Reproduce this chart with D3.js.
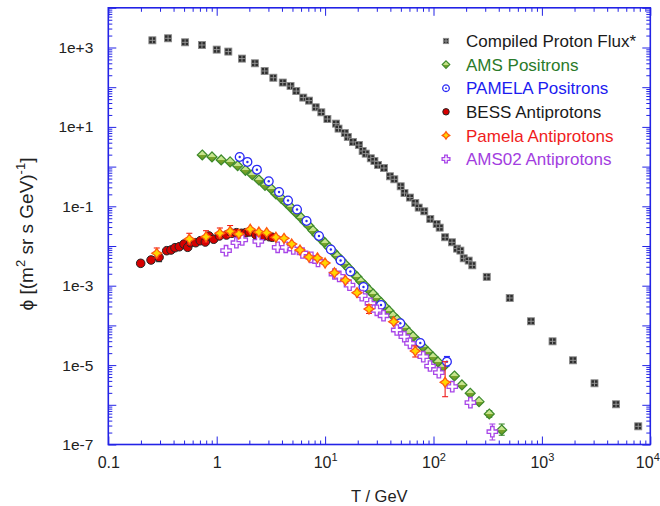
<!DOCTYPE html>
<html><head><meta charset="utf-8">
<script src="https://cdn.jsdelivr.net/npm/d3@7/dist/d3.min.js"></script>
<style>body{margin:0;background:#fff}svg{display:block}</style>
</head><body><svg id="c" width="660" height="506"></svg>
<script>
// ---------- data ----------
const protonT=[0.255,0.356,0.511,0.731,1.0,1.28,1.71,2.25,2.77,3.33,4.07,4.80,5.42,6.29,7.11,8.19,9.23,10.5,12.6,13.3,15.2,16.2,18.1,20.5,22.2,23.7,26.4,28.5,30.8,34.9,39.7,43.5,49.8,54.0,60.6,67.9,73.0,82.2,93.4,107,114,128,148,165,177,190,211,228,310,505,794,1254,1937,3056,4830,7740];
const protonF=[1517,1706,1352,1156,885,789,525,400,256,173,131,107,80,54.7,45.9,31.2,23.3,15.8,12.1,9.06,7.01,5.57,4.17,3.50,2.47,2.12,1.62,1.38,1.10,0.922,0.570,0.479,0.319,0.216,0.166,0.121,0.0927,0.0748,0.0479,0.0358,0.0290,0.0166,0.0124,0.00859,0.00766,0.0049,0.00429,0.00326,0.00167,4.9e-4,1.27e-4,3.97e-5,1.32e-5,3.48e-6,1.03e-6,2.87e-7];

const amsPosT=[0.736,0.905,1.10,1.33,1.56,1.84,2.13,2.45,2.79,3.19,3.52,3.94,4.36,4.81,5.39,6.00,6.53,7.10,7.73,8.42,9.17,9.98,10.9,11.8,12.9,14.0,15.3,16.6,18.1,19.7,21.4,23.3,25.4,27.7,30.1,32.8,35.7,38.9,42.3,46.0,50.1,54.6,59.4,64.7,71.9,80.0,88.9,98.9,110,123,156,183,218,263,327,426];
const amsPosF=[1.96,1.75,1.47,1.31,1.05,0.807,0.625,0.460,0.338,0.273,0.204,0.159,0.123,0.0944,0.0690,0.0516,0.0403,0.0319,0.0245,0.0189,0.0150,0.0119,0.00916,0.00726,0.00560,0.00444,0.00342,0.00271,0.00209,0.00166,0.00128,0.00101,7.80e-4,6.18e-4,4.76e-4,3.78e-4,2.90e-4,2.31e-4,1.77e-4,1.41e-4,1.08e-4,8.61e-5,6.62e-5,5.25e-5,3.93e-5,2.86e-5,2.14e-5,1.60e-5,1.20e-5,9.12e-6,5.31e-6,3.16e-6,1.95e-6,1.20e-6,5.86e-7,2.32e-7];
const amsPosLo={54:4.84e-7,55:1.71e-7};
const amsPosHi={54:7.10e-7,55:3.28e-7};

const pamPosT=[1.63,1.92,2.35,3.02,3.76,4.55,5.51,6.74,8.78,11.3,13.9,17.1,22.6,32.8,49.4,75.5,133];
const pamPosF=[1.75,1.31,0.836,0.427,0.229,0.140,0.0830,0.0427,0.0179,0.00817,0.00432,0.00228,9.27e-4,3.27e-4,1.13e-4,3.61e-5,1.22e-5];
const pamPosLo={16:9.48e-6};
const pamPosHi={16:1.65e-5};

const bessT=[0.199,0.248,0.294,0.346,0.379,0.412,0.452,0.499,0.540,0.575,0.640,0.706,0.785,0.849,0.938,1.06,1.23,1.38,1.52,1.69,1.85,2.00,2.29,2.47,2.73,3.06,3.26];
const bessF=[0.00366,0.00444,0.00519,0.00762,0.00793,0.00906,0.00959,0.0112,0.00927,0.0121,0.0121,0.0136,0.0126,0.0179,0.0148,0.0179,0.0189,0.0209,0.0216,0.0209,0.0216,0.0225,0.0193,0.0186,0.0179,0.0171,0.0166];
const bessLo={0:0.00308,1:0.0037,2:0.00403};
const bessHi={0:0.00435,1:0.0053,2:0.00655};

const pamPbarT=[0.280,0.559,0.797,1.07,1.33,1.60,2.04,2.45,2.89,3.52,4.18,4.92,5.87,7.10,8.50,10.0,12.2,15.4,19.7,25.4,42.9,67.9,128];
const pamPbarF=[0.00655,0.0150,0.0171,0.0209,0.0234,0.0200,0.0264,0.0225,0.0216,0.0166,0.0156,0.0112,0.00793,0.00528,0.00499,0.00373,0.00212,0.00137,6.67e-4,2.59e-4,1.24e-4,2.26e-5,3.69e-6];
const pamPbarLo={0:0.00499,1:0.0112,2:0.0126,3:0.0159,4:0.0173,19:2.0e-4,21:1.60e-5,22:1.60e-6};
const pamPbarHi={0:0.00891,1:0.0209,2:0.0243,3:0.0284,4:0.0328,19:3.3e-4,21:3.03e-5,22:1.22e-5};

const ams02T=[1.22,1.52,1.72,2.42,3.65,4.33,5.09,6.19,7.46,8.60,12.2,13.5,16.8,21.8,26.2,30.0,34.6,45.8,53.8,60.7,80.5,92.9,112,149,219,349];
const ams02F=[0.00762,0.0121,0.0142,0.0131,0.00927,0.00927,0.00839,0.00667,0.00519,0.00407,0.00197,0.00171,0.00103,5.60e-4,3.61e-4,2.40e-4,1.75e-4,7.66e-5,5.19e-5,3.54e-5,1.63e-5,9.48e-6,6.44e-6,2.86e-6,1.13e-6,2.10e-7];
const ams02Lo={25:1.30e-7};
const ams02Hi={25:3.28e-7};

const legendNames=["Compiled Proton Flux*","AMS Positrons","PAMELA Positrons","BESS Antiprotons","Pamela Antiprotons","AMS02 Antiprotons"];
const legendColors=["#1a1a1a","#2a7a2a","#1c1cf0","#1a1a1a","#f01c1c","#a23de0"];

const xTickValues=[0.1,1,10,100,1000,10000];
const xTickBase=["0.1","1","10","10","10","10"];
const xTickSup=["","","1","2","3","4"];
const yTickValues=[1e3,1e1,1e-1,1e-3,1e-5,1e-7];
const yTickLabels=["1e+3","1e+1","1e-1","1e-3","1e-5","1e-7"];

// ---------- layout ----------
const svg=d3.select("#c");
const L=108.3,R=650.3,T=7.8,B=444.5;
const x=d3.scaleLog().domain([0.1,1e4]).range([L,R]);
const y=d3.scaleLog().domain([1e-7,1e4]).range([B,T]);
const axisColor="#2323e6";
const font="'Liberation Sans', Arial, sans-serif";

const defs=svg.append("defs");
const gr=defs.append("linearGradient").attr("id","gAms").attr("x1",0).attr("y1",0).attr("x2",0).attr("y2",1);
gr.append("stop").attr("offset","0").attr("stop-color","#d2ec9c");
gr.append("stop").attr("offset","0.5").attr("stop-color","#c2e184");
gr.append("stop").attr("offset","0.5").attr("stop-color","#7aa52c");
gr.append("stop").attr("offset","1").attr("stop-color","#6a9622");

const minorX=[],minorY=[];
for(let e=-1;e<4;e++)for(let k=2;k<10;k++)minorX.push(k*Math.pow(10,e));
for(let e=-7;e<4;e++)for(let k=2;k<10;k++)minorY.push(k*Math.pow(10,e));
const majorX=d3.range(-1,5).map(e=>Math.pow(10,e));
const majorY=d3.range(-7,5).map(e=>Math.pow(10,e));

function styleAxis(g){g.select(".domain").remove();g.selectAll("line").attr("stroke",axisColor).attr("stroke-width",1);}
const axes=svg.append("g");
axes.append("g").attr("transform",`translate(0,${B})`).call(d3.axisBottom(x).tickValues(majorX).tickSizeInner(-8).tickSizeOuter(0).tickFormat("")).call(styleAxis);
axes.append("g").attr("transform",`translate(0,${B})`).call(d3.axisBottom(x).tickValues(minorX).tickSizeInner(-4).tickSizeOuter(0).tickFormat("")).call(styleAxis);
axes.append("g").attr("transform",`translate(0,${T})`).call(d3.axisTop(x).tickValues(majorX).tickSizeInner(-8).tickSizeOuter(0).tickFormat("")).call(styleAxis);
axes.append("g").attr("transform",`translate(0,${T})`).call(d3.axisTop(x).tickValues(minorX).tickSizeInner(-4).tickSizeOuter(0).tickFormat("")).call(styleAxis);
axes.append("g").attr("transform",`translate(${L},0)`).call(d3.axisLeft(y).tickValues(majorY).tickSizeInner(-8).tickSizeOuter(0).tickFormat("")).call(styleAxis);
axes.append("g").attr("transform",`translate(${L},0)`).call(d3.axisLeft(y).tickValues(minorY).tickSizeInner(-4).tickSizeOuter(0).tickFormat("")).call(styleAxis);
axes.append("g").attr("transform",`translate(${R},0)`).call(d3.axisRight(y).tickValues(majorY).tickSizeInner(-8).tickSizeOuter(0).tickFormat("")).call(styleAxis);
axes.append("g").attr("transform",`translate(${R},0)`).call(d3.axisRight(y).tickValues(minorY).tickSizeInner(-4).tickSizeOuter(0).tickFormat("")).call(styleAxis);
axes.append("rect").attr("x",L).attr("y",T).attr("width",R-L).attr("height",B-T).attr("fill","none").attr("stroke",axisColor).attr("stroke-width",1.6);

// tick labels
const xl=svg.append("g").attr("transform",`translate(0,${B})`)
  .call(d3.axisBottom(x).tickValues(xTickValues).tickSize(0).tickPadding(12).tickFormat((d,i)=>xTickBase[i]));
xl.select(".domain").remove();
xl.selectAll("text").attr("font-family",font).attr("font-size",16).attr("fill","#222")
  .attr("dx",(d,i)=>i===xTickValues.length-1?-3:0)
  .each(function(d,i){ if(xTickSup[i]){ d3.select(this).append("tspan").attr("dy",-7).attr("font-size",11).text(xTickSup[i]);} });
const yl=svg.append("g").attr("transform",`translate(${L},0)`)
  .call(d3.axisLeft(y).tickValues(yTickValues).tickSize(0).tickPadding(15).tickFormat((d,i)=>yTickLabels[i]));
yl.select(".domain").remove();
yl.selectAll("text").attr("font-family",font).attr("font-size",15.5).attr("fill","#222");

// axis titles
svg.append("text").attr("x",(L+R)/2).attr("y",502).attr("text-anchor","middle")
  .attr("font-family",font).attr("font-size",16.5).attr("fill","#222").text("T / GeV");
const yt=svg.append("text").attr("transform","translate(33,234) rotate(-90)").attr("text-anchor","middle")
  .attr("font-family",font).attr("font-size",19).attr("fill","#222");
yt.append("tspan").text("\u03D5 [(m");
yt.append("tspan").attr("dy",-8).attr("font-size",13).text("2");
yt.append("tspan").attr("dy",8).text(" sr s GeV)");
yt.append("tspan").attr("dy",-8).attr("font-size",13).text("-1");
yt.append("tspan").attr("dy",8).text("]");

// ---------- markers ----------
function mProton(g,s){s=s||1;
  g.append("rect").attr("x",-3.5*s).attr("y",-3.5*s).attr("width",7*s).attr("height",7*s).attr("fill","#2e2e2e").attr("stroke","#8c8c8c").attr("stroke-width",0.9);
  g.append("path").attr("d",`M${-3*s},0H${3*s}M0,${-3*s}V${3*s}`).attr("stroke","#9d9d9d").attr("stroke-width",0.9);}
function mAms(g,s){s=s||1;
  g.append("path").attr("d",`M0,${-5*s}L${5*s},0L0,${5*s}L${-5*s},0Z`).attr("fill","url(#gAms)").attr("stroke","#3d8a2c").attr("stroke-width",1.2);}
function mPamPos(g,s){s=s||1;
  g.append("circle").attr("r",4.4*s).attr("fill","#fff").attr("stroke","#2a2af5").attr("stroke-width",1.3);
  g.append("circle").attr("r",1.2*s).attr("fill","#2a2af5");}
function mBess(g,s){s=s||1;
  g.append("circle").attr("r",4.3*s).attr("fill","#d60000").attr("stroke","#262626").attr("stroke-width",1);}
function mPamPbar(g,s){s=s||1;
  g.append("path").attr("d",`M0,${-5*s}L${2*s},${-2*s}L${5*s},0L${2*s},${2*s}L0,${5*s}L${-2*s},${2*s}L${-5*s},0L${-2*s},${-2*s}Z`).attr("fill","#ffd600").attr("stroke","#ff5a10").attr("stroke-width",1.3);}
function mAms02(g,s){s=s||1;
  g.append("path").attr("d",d3.symbol(d3.symbolCross,60*s*s)()).attr("fill","#fff").attr("stroke","#a846e8").attr("stroke-width",1.3);}

function errBars(Ts,Fs,Lo,Hi,color){
  const g=svg.append("g").attr("stroke",color).attr("stroke-width",1.1);
  Object.keys(Lo).forEach(k=>{const i=+k; const cx=x(Ts[i]);
    const y1=y(Lo[i]), y2=y(Hi[i]);
    g.append("line").attr("x1",cx).attr("x2",cx).attr("y1",y1).attr("y2",y2);
    g.append("line").attr("x1",cx-3).attr("x2",cx+3).attr("y1",y1).attr("y2",y1);
    g.append("line").attr("x1",cx-3).attr("x2",cx+3).attr("y1",y2).attr("y2",y2);
  });
}
function series(Ts,Fs,fn){
  const g=svg.append("g");
  g.selectAll("g").data(Ts.map((t,i)=>[t,Fs[i]])).join("g")
   .attr("transform",d=>`translate(${x(d[0])},${y(d[1])})`).each(function(){fn(d3.select(this));});
}

series(protonT,protonF,mProton);
errBars(amsPosT,amsPosF,amsPosLo,amsPosHi,"#3d8a2c");
series(amsPosT,amsPosF,mAms);
errBars(pamPosT,pamPosF,pamPosLo,pamPosHi,"#2a2af5");
series(pamPosT,pamPosF,mPamPos);
errBars(bessT,bessF,bessLo,bessHi,"#222");
series(bessT,bessF,mBess);
errBars(ams02T,ams02F,ams02Lo,ams02Hi,"#a846e8");
series(ams02T,ams02F,mAms02);
errBars(pamPbarT,pamPbarF,pamPbarLo,pamPbarHi,"#ee1c1c");
series(pamPbarT,pamPbarF,mPamPbar);

// ---------- legend ----------
const legFns=[mProton,mAms,mPamPos,mBess,mPamPbar,mAms02];
const lg=svg.append("g");
legendNames.forEach((n,i)=>{
  const yy=41+i*23.6;
  const m=lg.append("g").attr("transform",`translate(446,${yy})`); legFns[i](m,0.75);
  lg.append("text").attr("x",466).attr("y",yy).attr("dy","0.36em").attr("font-family",font).attr("font-size",17).attr("fill",legendColors[i]).text(n);
});
</script></body></html>
